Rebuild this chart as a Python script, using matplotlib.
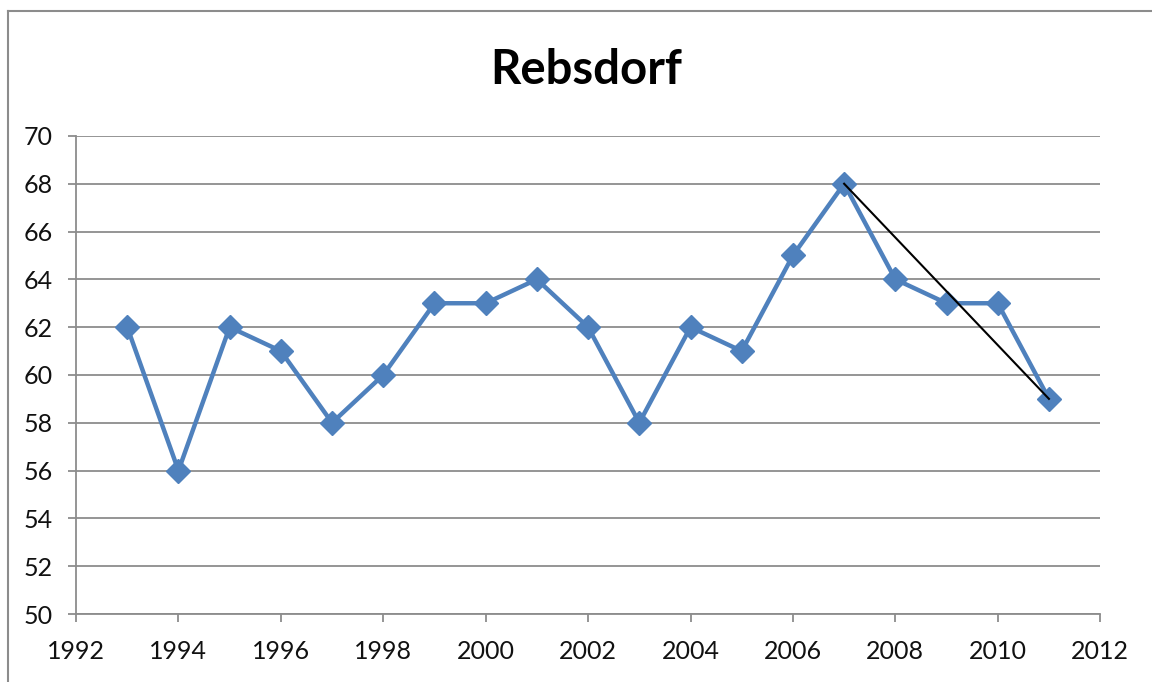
import matplotlib.pyplot as plt
from matplotlib.lines import Line2D

# Yearly values for Rebsdorf
years = [1993, 1994, 1995, 1996, 1997, 1998, 1999, 2000, 2001, 2002,
         2003, 2004, 2005, 2006, 2007, 2008, 2009, 2010, 2011]
values = [62, 56, 62, 61, 58, 60, 63, 63, 64, 62,
          58, 62, 61, 65, 68, 64, 63, 63, 59]

# Hand-drawn trend line from the 2007 peak down to 2011
trend_years = [2007, 2011]
trend_values = [68, 59]

plt.rcParams['font.family'] = ['Lato', 'DejaVu Sans']

fig = plt.figure(figsize=(11.52, 6.82), dpi=100)
ax = fig.add_axes([0.066, 0.0997, 0.889, 0.701])

ax.plot(years, values, color='#4F81BD', linewidth=3.2, marker='D',
        markersize=12, markerfacecolor='#4F81BD', markeredgecolor='#4F81BD',
        zorder=3)
ax.plot(trend_years, trend_values, color='black', linewidth=1.5, zorder=4)

ax.set_xlim(1992, 2012)
ax.set_ylim(50, 70)
ax.set_xticks(range(1992, 2013, 2))
ax.set_yticks(range(50, 71, 2))

ax.grid(axis='y', color='#8c8c8c', linewidth=1.3)
ax.set_axisbelow(True)
for side in ['top', 'right']:
    ax.spines[side].set_visible(False)
for side in ['left', 'bottom']:
    ax.spines[side].set_color('#8c8c8c')
    ax.spines[side].set_linewidth(1.3)

ax.tick_params(axis='both', colors='#8c8c8c', labelcolor='#111111',
               labelsize=18, length=6, width=1.3)
ax.tick_params(axis='x', pad=13)
ax.tick_params(axis='y', pad=11)

fig.text(0.509, 0.897, 'Rebsdorf', ha='center', va='center',
         fontsize=34, fontweight='bold', color='black')

# Chart frame: only the top and left edges fall inside the image
fig.add_artist(Line2D([0.007, 0.007], [0, 0.984], transform=fig.transFigure,
                      color='#8c8c8c', linewidth=1.5))
fig.add_artist(Line2D([0.007, 1.0], [0.984, 0.984], transform=fig.transFigure,
                      color='#8c8c8c', linewidth=1.5))

fig.savefig('out.png', dpi=100)
